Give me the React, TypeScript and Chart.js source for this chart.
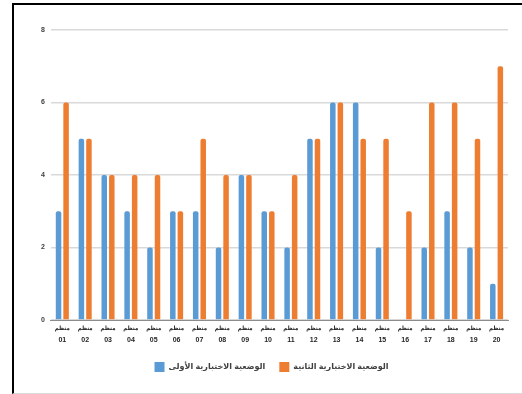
import React, { useEffect, useRef } from "react";
import { Chart, registerables } from "chart.js";

Chart.register(...registerables);

const categories = ["01","02","03","04","05","06","07","08","09","10","11","12","13","14","15","16","17","18","19","20"];
const categoryPrefix = "منظم";
const seriesNames = ["الوضعية الاختبارية الأولى", "الوضعية الاختبارية الثانية"];
const firstTest = [3,5,4,3,2,3,3,2,4,3,2,5,6,6,2,0,2,3,2,1];
const secondTest = [6,5,4,4,4,3,5,4,4,3,4,5,6,5,5,3,6,6,5,7];
const yTicks = [0, 2, 4, 6, 8];

const FONT = "'Liberation Sans', 'DejaVu Sans', Arial, sans-serif";

const prefixPlugin = {
  id: "prefixLabels",
  afterDraw(chart: any) {
    const x = chart.scales.x;
    const ctx = chart.ctx;
    ctx.save();
    ctx.fillStyle = "#262626";
    ctx.font = "bold 6px 'DejaVu Sans Condensed', 'DejaVu Sans', sans-serif";
    ctx.textAlign = "center";
    ctx.textBaseline = "middle";
    categories.forEach((_, i) => {
      ctx.fillText(categoryPrefix, x.getPixelForValue(i), chart.chartArea.bottom + 8);
    });
    ctx.restore();
  },
};

export default function App() {
  const ref = useRef<HTMLCanvasElement | null>(null);
  useEffect(() => {
    if (!ref.current) return;
    const chart = new Chart(ref.current, {
      type: "bar",
      data: {
        labels: categories,
        datasets: [
          {
            label: seriesNames[0],
            data: firstTest,
            backgroundColor: "#5B9BD5",
            borderRadius: 2,
            borderSkipped: "bottom",
            categoryPercentage: 0.66,
            barPercentage: 0.73,
          },
          {
            label: seriesNames[1],
            data: secondTest,
            backgroundColor: "#ED7D31",
            borderRadius: 2,
            borderSkipped: "bottom",
            categoryPercentage: 0.66,
            barPercentage: 0.73,
          },
        ],
      },
      plugins: [prefixPlugin],
      options: {
        animation: false,
        responsive: false,
        maintainAspectRatio: false,
        layout: { padding: { top: 30, left: 35, right: 14, bottom: 12 } },
        plugins: {
          tooltip: { enabled: false },
          legend: {
            position: "bottom",
            labels: {
              boxWidth: 10,
              boxHeight: 10,
              padding: 14,
              color: "#404040",
              font: { family: FONT, size: 8, weight: "bold" },
            },
          },
        },
        scales: {
          x: {
            afterFit: (axis: any) => {
              axis.height = 28;
            },
            grid: { display: false, drawTicks: false },
            border: { display: true, color: "#8c8c8c", width: 1 },
            ticks: {
              color: "#262626",
              font: { family: FONT, size: 7, weight: "bold" },
              maxRotation: 0,
              autoSkip: false,
              padding: 16,
            },
          },
          y: {
            min: 0,
            max: 8,
            afterBuildTicks: (axis: any) => {
              axis.ticks = yTicks.map((v) => ({ value: v }));
            },
            grid: { color: "#d9d9d9", lineWidth: 1.5, drawTicks: false },
            border: { display: false },
            ticks: {
              color: "#404040",
              font: { family: FONT, size: 7, weight: "bold" },
              padding: 6,
            },
          },
        },
      },
    });
    return () => chart.destroy();
  }, []);

  return (
    <div style={{ position: "fixed", left: 0, top: 0, width: 522, height: 394, background: "#fff" }}>
      <canvas ref={ref} width={522} height={394} style={{ position: "absolute", left: 0, top: 0, width: 522, height: 394 }} />
      <div
        style={{
          position: "absolute",
          left: 12,
          top: 3,
          width: 530,
          height: 388,
          borderTop: "2px solid #000",
          borderLeft: "2px solid #000",
          borderBottom: "1px solid #d9d9d9",
          pointerEvents: "none",
        }}
      />
    </div>
  );
}
